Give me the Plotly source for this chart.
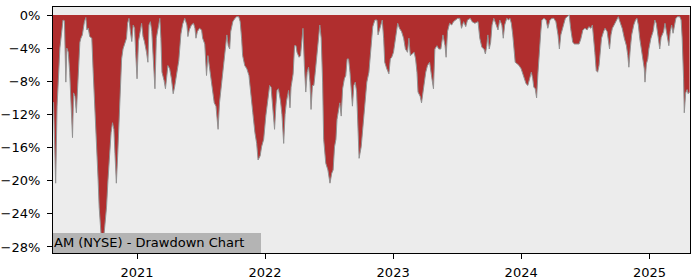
import pandas as pd
import plotly.graph_objects as go

# Drawdown series (days counted from start_date, drawdown in %)
start_date = "2020-05-01"
days = [5, 7, 13, 17, 25, 34, 38, 42, 45, 49, 53, 59, 61, 64, 68, 72, 76, 82, 85, 89,
        95, 99, 102, 106, 110, 116, 120, 124, 129, 134, 137, 141, 146, 153, 158, 162, 167, 171, 175, 179,
        182, 186, 190, 194, 198, 201, 205, 211, 215, 218, 222, 226, 230, 234, 238, 241, 245, 249, 255, 258,
        262, 266, 272, 276, 279, 283, 287, 291, 296, 300, 306, 310,
        313, 316, 322, 326, 333, 338, 343, 348, 352, 358, 364, 370, 375, 381, 387, 390, 394, 400,
        406, 410, 413, 417, 423, 429, 432, 438, 443, 447, 453, 459, 465, 470, 476, 480, 486, 491, 497, 501,
        505, 509, 512, 518, 524, 529, 535, 539, 543, 546, 552, 558, 564, 569, 575, 581, 586, 590, 596, 600, 606,
        612, 618, 623, 627, 631, 637, 641, 644, 648, 654, 658, 663, 667, 671, 677, 681, 684, 690, 694, 698,
        701, 707, 711, 715, 718, 722, 726, 730, 734, 738, 741, 745, 749, 753, 757, 762, 766, 770, 774, 777,
        783, 789, 795, 800, 804, 808, 812, 815, 819, 823, 827, 831, 836, 840, 844, 848, 852, 855, 859, 863,
        867, 871, 874, 878, 884, 890, 894, 900, 906, 912, 917, 923, 929, 932, 938, 944, 948, 951, 957, 963,
        967, 971, 976, 982, 988, 993, 999, 1005, 1010, 1016, 1020, 1024, 1029, 1035, 1039, 1043, 1046, 1052, 1056, 1062,
        1068, 1073, 1079, 1085, 1090, 1094, 1100, 1105, 1111, 1117, 1123, 1126, 1130, 1136, 1142, 1147, 1153, 1159, 1165, 1170,
        1176, 1182, 1187, 1195, 1200, 1208, 1217, 1222, 1228, 1234, 1238, 1242, 1245, 1249, 1253, 1257, 1262, 1268, 1274, 1279,
        1285, 1289, 1293, 1299, 1304, 1308, 1312, 1316, 1319, 1323, 1329, 1334, 1340, 1344, 1348, 1354, 1359, 1365, 1369, 1373,
        1376, 1380, 1384, 1388, 1392, 1396, 1399, 1405, 1411, 1416, 1422, 1428, 1433, 1439, 1445, 1449, 1453, 1456, 1460, 1466,
        1471, 1477, 1481, 1487, 1492, 1498, 1505, 1510, 1516, 1522, 1528, 1533, 1539, 1543, 1547, 1550, 1554, 1558, 1562, 1565,
        1569, 1575, 1579, 1585, 1588, 1592, 1596, 1600, 1605, 1611, 1617, 1623, 1628, 1634, 1640, 1644, 1647, 1651, 1655, 1661,
        1666, 1670, 1674, 1678, 1684, 1687, 1691, 1693, 1697, 1701, 1704, 1710, 1716, 1721, 1725, 1731, 1735, 1739, 1742, 1746,
        1750, 1754, 1758, 1761, 1765, 1769, 1773, 1777, 1781, 1786, 1792, 1796, 1799, 1803, 1805, 1809, 1813, 1816, 1820]
drawdown = [-10.5, -10.6, -20.3, -11.0, -4.0, -0.6, -0.7, -8.1, -4.0, -4.5, -6.9, -13.0, -14.8, -9.4, -9.8, -11.8, -7.7, -3.3, -2.8, -2.4,
            -0.8, -0.3, -1.8, -1.6, -2.6, -2.8, -6.9, -10.2, -15.0, -19.9, -23.2, -26.0, -28.6, -25.5, -23.2, -20.0, -16.7, -14.2, -13.0, -13.8,
            -16.7, -20.3, -16.7, -12.2, -9.8, -5.3, -4.1, -3.2, -2.8, -1.0, -0.4, -2.0, -3.2, -1.2, -1.6, -4.5, -7.7, -3.2, -1.8, -1.0,
            -2.6, -3.2, -4.5, -5.7, -1.2, -0.8, -2.0, -4.9, -8.9, -2.8, -1.0, -0.4,
            -2.8, -6.9, -7.9, -8.9, -6.1, -6.5, -7.7, -9.5, -8.7, -7.1, -5.5, -2.3, -1.1, -0.4, -1.2, -2.6, -1.8, -1.2,
            -1.0, -1.6, -2.8, -2.0, -1.6, -1.8, -2.8, -3.5, -7.3, -4.9, -6.9, -8.9, -10.6, -11.0, -13.8, -10.6, -8.1, -5.7, -3.2, -2.4,
            -3.7, -4.1, -2.0, -0.8, -0.4, -0.2, -0.2, -0.8, -2.8, -4.9, -6.1, -6.5, -7.3, -9.8, -11.8, -14.2, -15.5, -17.5, -17.0, -15.9, -15.0,
            -12.2, -10.2, -8.5, -8.7, -10.8, -13.8, -10.8, -9.1, -8.9, -10.4, -12.0, -15.5, -12.0, -10.4, -9.1, -11.2, -8.7, -7.1, -3.7, -3.7,
            -4.5, -5.1, -4.9, -3.3, -1.6, -6.1, -9.3, -6.9, -6.3, -8.1, -11.4, -8.5, -8.5, -6.9, -5.3, -2.8, -1.2, -2.8, -8.1, -15.0,
            -17.9, -18.7, -20.3, -19.1, -18.7, -15.9, -15.0, -12.6, -11.8, -10.6, -12.2, -8.9, -7.7, -7.3, -5.3, -5.3, -6.9, -9.3, -11.0, -8.5,
            -8.1, -9.3, -12.8, -17.3, -15.9, -13.0, -11.8, -8.1, -6.9, -4.1, -1.4, -0.6, -0.6, -2.4, -1.6, -0.6, -2.8, -5.7, -6.5, -7.1,
            -5.3, -5.1, -4.5, -2.8, -1.0, -1.6, -2.0, -2.8, -4.1, -4.5, -2.8, -4.9, -4.7, -4.5, -5.3, -6.9, -9.3, -9.8, -10.6, -8.5,
            -6.9, -6.1, -5.7, -7.5, -8.9, -4.1, -3.7, -4.1, -4.1, -2.4, -3.7, -5.1, -2.0, -1.0, -1.2, -0.8, -0.6, -0.4, -0.4, -1.6,
            -0.8, -1.4, -0.6, -0.4, -0.8, -1.0, -0.8, -2.8, -3.9, -4.1, -4.7, -3.7, -2.4, -4.1, -3.3, -1.2, -0.4, -1.2, -1.8, -0.6,
            -1.2, -2.8, -1.2, -0.4, -0.6, -0.4, -1.0, -2.4, -4.1, -5.7, -5.9, -6.1, -6.5, -7.1, -7.7, -8.3, -8.5, -7.7, -6.9, -7.7,
            -8.7, -8.9, -10.0, -6.9, -3.7, -2.0, -0.6, -0.4, -0.6, -1.6, -0.6, -0.4, -0.4, -0.8, -2.4, -4.1, -2.4, -2.0, -1.2, -0.4,
            -0.2, 0.0, -1.6, -3.3, -3.5, -3.5, -3.5, -2.9, -1.8, -1.6, -1.8, -1.4, -1.6, -1.2, -2.8, -4.5, -6.7, -6.9, -6.1, -4.1,
            -2.8, -2.0, -1.6, -2.0, -2.8, -4.1, -2.4, -1.6, -1.2, -0.6, -0.2, -1.0, -1.6, -2.8, -3.7, -4.9, -6.3, -4.1, -2.4, -1.2,
            -0.6, -0.4, -1.2, -2.8, -4.5, -5.3, -6.5, -8.1, -5.9, -5.3, -4.1, -2.8, -2.0, -0.6, -1.0, -2.8, -4.1, -2.7, -2.3, -2.0,
            -1.0, -2.0, -3.0, -3.7, -2.0, -1.2, -2.2, -1.2, -0.4, -0.2, -0.2, -0.6, -2.8, -7.7, -11.8, -9.4, -9.0, -9.5, -9.3]

y_tick_values = [0, -4, -8, -12, -16, -20, -24, -28]
y_tick_labels = ["0%", "\u22124%", "\u22128%", "\u221212%", "\u221216%", "\u221220%", "\u221224%", "\u221228%"]
x_tick_values = ["2021-01-01", "2022-01-01", "2023-01-01", "2024-01-01", "2025-01-01"]
x_tick_labels = ["2021", "2022", "2023", "2024", "2025"]
title_text = "AM (NYSE) - Drawdown Chart"

dates = pd.Timestamp(start_date) + pd.to_timedelta(days, unit="D")

fig = go.Figure()
fig.add_trace(go.Scatter(
    x=dates, y=drawdown, mode="lines", fill="tozeroy",
    fillcolor="rgb(176,46,46)",
    line=dict(color="rgb(145,145,145)", width=1),
    hoverinfo="skip", showlegend=False,
))

x_start = pd.Timestamp(start_date) + pd.Timedelta(days=5.4)
x_end = pd.Timestamp(start_date) + pd.Timedelta(days=1821.3)

axis_common = dict(
    showgrid=False, zeroline=False, showline=True, linecolor="black", linewidth=1,
    mirror=True, ticks="outside", ticklen=5, tickwidth=1, tickcolor="black",
    tickfont=dict(family="DejaVu Sans", size=13, color="black"), automargin=False,
)
fig.update_xaxes(range=[x_start, x_end], tickvals=x_tick_values, ticktext=x_tick_labels,
                 ticklabelstandoff=2, **axis_common)
fig.update_yaxes(range=[-28.73, 0.97], tickvals=y_tick_values, ticktext=y_tick_labels,
                 ticklabelstandoff=4, **axis_common)

fig.add_annotation(
    text=title_text, xref="paper", yref="paper", x=0, y=0,
    xanchor="left", yanchor="bottom", showarrow=False,
    font=dict(family="DejaVu Sans", size=13, color="black"),
    bgcolor="rgb(180,180,180)", borderpad=1, borderwidth=0,
    width=206, height=17.5, align="left",
)

fig.update_layout(
    width=700, height=280,
    margin=dict(l=53, r=10, t=7, b=27, autoexpand=False),
    paper_bgcolor="white", plot_bgcolor="rgb(236,236,236)",
)

fig.write_html("out.html")
